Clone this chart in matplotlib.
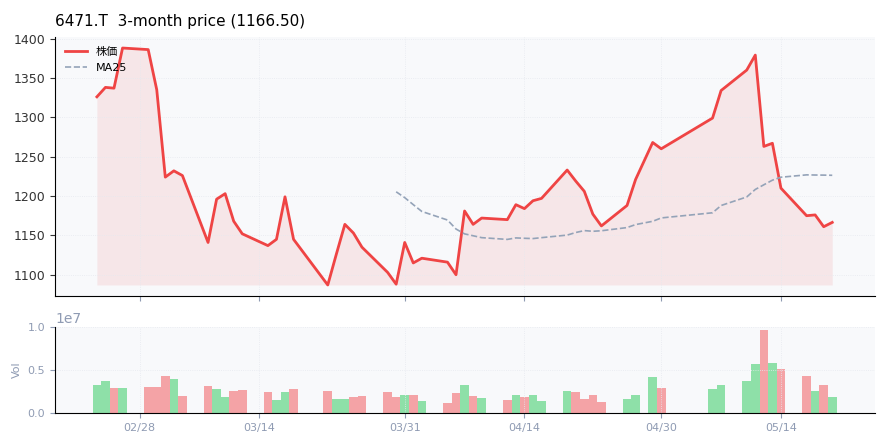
import matplotlib
matplotlib.use("Agg")
import matplotlib.pyplot as plt
import numpy as np
import pandas as pd

plt.rcParams['font.family'] = ['DejaVu Sans', 'Noto Sans CJK JP']

day = [-5,-4,-3,-2, 1,2,3,4,5, 8,9,10,11,12, 15,16,17,18, 22,23,24,25,26,
       29,30,31,32,33, 36,37,38,39,40, 43,44,45,46,47, 50,51,52,53,54,
       57,58,60,61, 67,68, 71,72,73,74,75, 78,79,80,81]
close = [1326,1338,1337,1388, 1386,1335,1224,1232,1226, 1141,1196,1203,1168,1152,
         1137,1145,1199,1145, 1087,1126,1164,1153,1135,
         1103,1088,1141,1115,1121, 1116,1100,1181,1164,1172,
         1170,1189,1184,1194,1197, 1233,1219,1206,1177,1162,
         1188,1221,1268,1260, 1299,1334, 1360,1379,1263,1267,1210,
         1175,1176,1161,1166.5]
volume = [0.33,0.37,0.29,0.29, 0.30,0.30,0.43,0.40,0.20, 0.31,0.28,0.19,0.26,0.27,
          0.25,0.15,0.25,0.28, 0.26,0.16,0.16,0.19,0.20,
          0.25,0.19,0.21,0.21,0.14, 0.12,0.23,0.33,0.20,0.17,
          0.15,0.21,0.19,0.21,0.14, 0.26,0.25,0.16,0.21,0.13,
          0.16,0.21,0.42,0.29, 0.28,0.33, 0.37,0.57,0.96,0.58,0.51,
          0.43,0.26,0.33,0.19]
tick_pos = [0,14,31,45,61,75]
tick_labels = ["02/28","03/14","03/31","04/14","04/30","05/14"]

x = np.array(day, dtype=float)
c = pd.Series(close, dtype=float)
ma = c.rolling(25).mean()
vol = np.array(volume)*1e7
up = np.r_[True, np.diff(c.values) >= 0]
vcol = np.where(up, "#8ee0a8", "#f4a3a6")

fig = plt.figure(figsize=(8.85,4.45), dpi=100)
ax = fig.add_axes([55/885, 1-296/445, 820/885, 259/445])
axv = fig.add_axes([55/885, 1-413/445, 820/885, 86/445], sharex=ax)
grey = "#8f9bb3"
for a in (ax, axv):
    a.set_facecolor("#f8f9fb")
    a.grid(True, color="#e6e9ef", lw=0.6, ls=":")
    for s in ("top","right"):
        a.spines[s].set_visible(False)
    a.tick_params(colors=grey, labelsize=8)

base = 1087
ax.fill_between(x, c.values, base, color="#f3c4c6", alpha=0.35, lw=0)
ax.plot(x, c.values, color="#ef4444", lw=2, label="株価")
ax.plot(x, ma.values, color="#94a3b8", lw=1.2, ls="--", label="MA25")
ax.set_ylim(1073, 1402)
ax.set_xlim(-9.9, 86.0)
ax.tick_params(axis="y", colors="#333333", labelsize=9)
ax.tick_params(axis="x", labelbottom=False)
ax.legend(loc="upper left", frameon=False, fontsize=8)
ax.set_title("6471.T  3-month price (1166.50)", loc="left", fontsize=11, pad=8)

axv.bar(x, vol, width=1.0, color=vcol)
axv.set_ylim(0, 1.0e7)
axv.set_yticks([0, 0.5e7, 1.0e7])
axv.set_xticks(tick_pos)
axv.set_xticklabels(tick_labels)
axv.set_ylabel("Vol", color=grey, fontsize=8)
axv.yaxis.get_offset_text().set_color(grey)

fig.savefig("out.png", dpi=100)
